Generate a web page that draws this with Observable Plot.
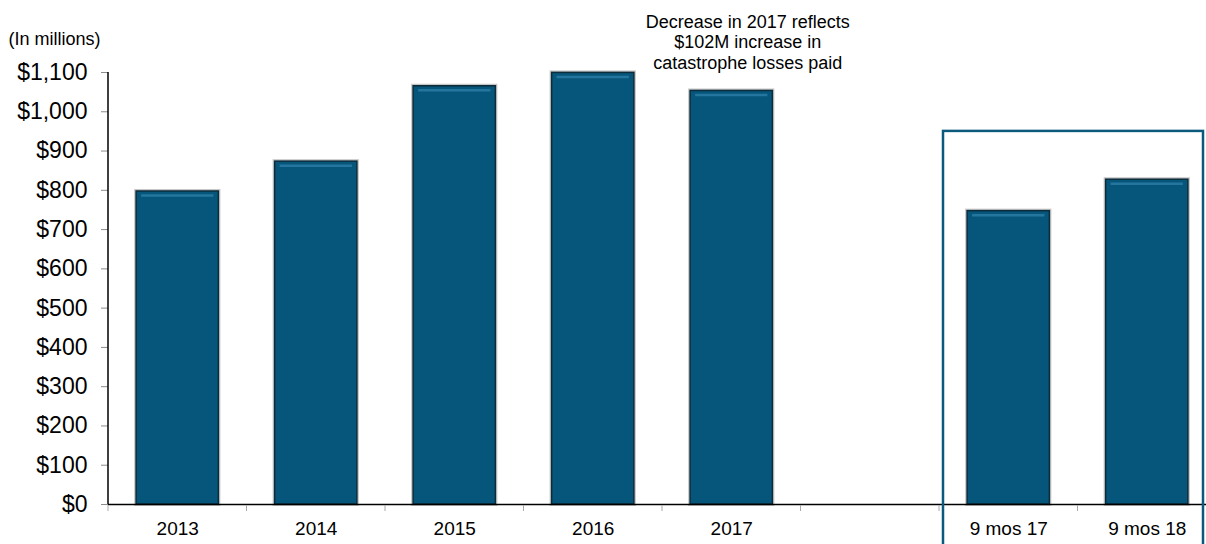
<!DOCTYPE html>
<html><head><meta charset="utf-8">
<script src="https://cdn.jsdelivr.net/npm/d3@7"></script>
<script src="https://cdn.jsdelivr.net/npm/@observablehq/plot@0.6"></script>
<style>
html,body{margin:0;padding:0;background:#fff;}
body{width:1206px;height:544px;overflow:hidden;}
</style></head><body><div id="chart"></div>
<script>
const categories = ["2013", "2014", "2015", "2016", "2017", " ", "9 mos 17", "9 mos 18"];
const values = [797, 873, 1065, 1099, 1053, null, 747, 827];
const yTicks = [0, 100, 200, 300, 400, 500, 600, 700, 800, 900, 1000, 1100];
const unitLabel = "(In millions)";
const annotation = "Decrease in 2017 reflects\n$102M increase in\ncatastrophe losses paid";
const annotatedCategory = "2017";
const boxedCategories = ["9 mos 17", "9 mos 18"];
const boxTopValue = 950;

const rows = categories.map((c, i) => ({category: c, value: values[i]})).filter(d => d.value != null);
const font = "Arial, 'Liberation Sans', sans-serif";
const padInner = 0.406, padOuter = 0.203;

const plot = Plot.plot({
  width: 1206, height: 544,
  marginTop: 72, marginBottom: 40, marginLeft: 108, marginRight: 0,
  style: {fontFamily: font, background: "#fff", color: "#000"},
  x: {domain: categories, range: [108, 1216], paddingInner: padInner, paddingOuter: padOuter, round: false,
      label: null, tickSize: 0, tickPadding: 17, tickFormat: d => d.trim()},
  y: {domain: [0, 1100], label: null, ticks: yTicks, tickSize: 7, tickPadding: 14,
      tickFormat: d => "$" + d3.format(",")(d)},
  marks: [
    Plot.barY(rows, {x: "category", y: "value", fill: "none", stroke: "#c8c8c8", strokeWidth: 4}),
    Plot.barY(rows, {x: "category", y: "value", fill: "#06557a", stroke: "#0c2c3b", strokeWidth: 1.5}),
    Plot.tickY(rows, {x: "category", y: "value", dy: 4, insetLeft: 5, insetRight: 5, stroke: "#2b7ca6", strokeWidth: 2.5, strokeOpacity: 0.85}),
    Plot.ruleY([0], {stroke: "#000", strokeWidth: 1.5}),
    Plot.text([annotation], {x: () => annotatedCategory, frameAnchor: "top", dy: -31, dx: 16,
      lineAnchor: "middle", textAnchor: "middle", fontSize: 18, lineHeight: 1.14, fill: "#000"}),
    Plot.text([unitLabel], {frameAnchor: "top-left", dx: -100, dy: -33, textAnchor: "start",
      lineAnchor: "middle", fontSize: 18, fill: "#000"})
  ]
});

const svg = d3.select(plot);
// style axes
svg.selectAll('[aria-label^="y-axis"]').style("font-size", "23px");
svg.selectAll('[aria-label^="y-axis"] text').style("font-size", "23px").attr("fill", "#000");
svg.selectAll('[aria-label^="y-axis"] line, [aria-label^="y-axis"] path').attr("stroke", "#8c8c8c");
svg.selectAll('[aria-label^="x-axis"]').style("font-size", "19px");
svg.selectAll('[aria-label^="x-axis"] text').style("font-size", "19px").attr("fill", "#000");
svg.selectAll('[aria-label^="x-axis"] line, [aria-label^="x-axis"] path').attr("stroke-opacity", 0);

const xs = plot.scale("x"), ys = plot.scale("y");
const n = categories.length;
const step = xs.step != null ? xs.step : (xs.range[1] - xs.range[0]) / (n - padInner + 2 * padOuter);
const bw = xs.bandwidth != null ? xs.bandwidth : step * (1 - padInner);
const gap = step - bw;
const y0 = ys.apply(0);
const yTop = ys.apply(yTicks[yTicks.length - 1]);
const x0 = xs.range[0];

// y axis line
svg.append("line").attr("x1", x0).attr("x2", x0).attr("y1", yTop).attr("y2", y0)
  .attr("stroke", "#000").attr("stroke-width", 1.5);

// x boundary ticks
const bounds = categories.map(c => xs.apply(c) - gap / 2);
svg.append("g").selectAll("line").data(bounds).join("line")
  .attr("x1", d => d).attr("x2", d => d)
  .attr("y1", y0 + 1).attr("y2", y0 + 7)
  .attr("stroke", "#a8a8a8").attr("stroke-width", 1);

// box around last categories
const bx0 = xs.apply(boxedCategories[0]) - gap / 2 + 4;
const bx1 = Math.min(xs.apply(boxedCategories[boxedCategories.length - 1]) + bw + gap / 2, 1206) - 3;
const by0 = ys.apply(boxTopValue);
svg.append("rect")
  .attr("x", bx0).attr("y", by0)
  .attr("width", bx1 - bx0).attr("height", 600)
  .attr("fill", "none").attr("stroke", "#0b5a7d").attr("stroke-width", 2.5);

document.getElementById("chart").appendChild(plot);
</script></body></html>
